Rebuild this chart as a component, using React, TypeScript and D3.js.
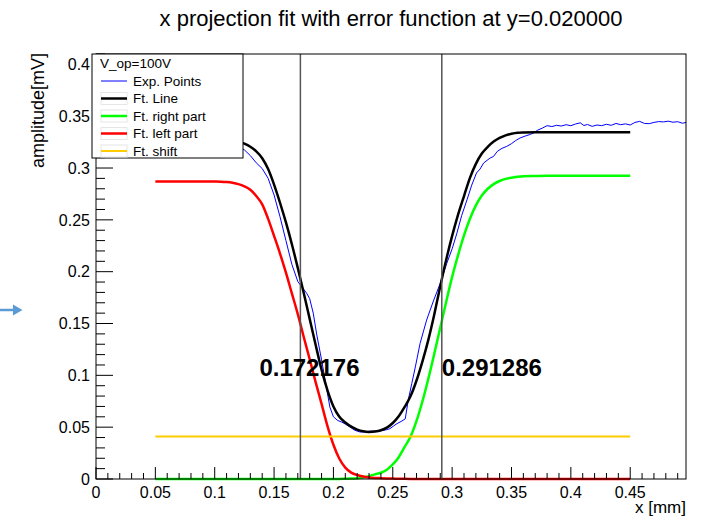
import React from "react";
import * as d3 from "d3";

const TITLE = "x projection fit with error function at y=0.020000";
const X_TITLE = "x [mm]";
const Y_TITLE = "amplitude[mV]";

const X_TICKS = [0, 0.05, 0.1, 0.15, 0.2, 0.25, 0.3, 0.35, 0.4, 0.45];
const X_TICK_LABELS = ["0", "0.05", "0.1", "0.15", "0.2", "0.25", "0.3", "0.35", "0.4", "0.45"];
const Y_TICKS = [0, 0.05, 0.1, 0.15, 0.2, 0.25, 0.3, 0.35, 0.4];
const Y_TICK_LABELS = ["0", "0.05", "0.1", "0.15", "0.2", "0.25", "0.3", "0.35", "0.4"];

const LEGEND_HEADER = "V_op=100V";
const LEGEND_LABELS = ["Exp. Points", "Ft. Line", "Ft. right part", "Ft. left part", "Ft. shift"];

const EDGES = [0.172176, 0.291286];
const EDGE_LABELS = ["0.172176", "0.291286"];

// shared x grid of the fitted curves
const FIT_X = [
  0.05, 0.06, 0.07, 0.08, 0.09, 0.1,
  0.105, 0.11, 0.115, 0.12, 0.125, 0.13, 0.135, 0.14, 0.145, 0.15,
  0.155, 0.16, 0.165, 0.17, 0.175, 0.18, 0.185, 0.19, 0.195, 0.2,
  0.205, 0.21, 0.215, 0.22, 0.225, 0.23, 0.235, 0.24, 0.245, 0.25,
  0.255, 0.26, 0.265, 0.27, 0.275, 0.28, 0.285, 0.29, 0.295, 0.3,
  0.305, 0.31, 0.315, 0.32, 0.325, 0.33, 0.335, 0.34, 0.345, 0.35,
  0.355, 0.36,
  0.37, 0.38, 0.39, 0.4, 0.41, 0.42, 0.43, 0.44, 0.45,
];

const FIT_LINE = [
  0.328, 0.328, 0.328, 0.328, 0.328, 0.3278,
  0.3276, 0.3272, 0.3265, 0.3255, 0.3235, 0.3205, 0.316, 0.3095, 0.299, 0.284,
  0.2665, 0.2475, 0.2265, 0.2035, 0.1795, 0.1545, 0.1295, 0.1055, 0.0855, 0.07,
  0.06, 0.0545, 0.0505, 0.0477, 0.046, 0.0454, 0.0458, 0.047, 0.0495, 0.054,
  0.0605, 0.0695, 0.08, 0.095, 0.1135, 0.1345, 0.159, 0.186, 0.2115, 0.2345,
  0.255, 0.273, 0.2905, 0.304, 0.314, 0.3205, 0.3255, 0.329, 0.3315, 0.333,
  0.334, 0.3343,
  0.3345, 0.3345, 0.3345, 0.3345, 0.3345, 0.3345, 0.3345, 0.3345, 0.3345,
];

const RIGHT_PART = [
  0, 0, 0, 0, 0, 0,
  0, 0, 0, 0, 0, 0, 0, 0, 0, 0,
  0, 0, 0, 0, 0, 0, 0, 0, 0, 0,
  0.0001, 0.0002, 0.0004, 0.0008, 0.0015, 0.0028, 0.0045, 0.006, 0.009, 0.014,
  0.021, 0.031, 0.041, 0.056, 0.075, 0.097, 0.121, 0.146, 0.171, 0.195,
  0.216, 0.235, 0.251, 0.264, 0.2735, 0.28, 0.2845, 0.2875, 0.2895, 0.2907,
  0.2915, 0.292,
  0.2923, 0.2925, 0.2925, 0.2925, 0.2925, 0.2925, 0.2925, 0.2925, 0.2925,
];

const LEFT_PART = [
  0.287, 0.287, 0.287, 0.287, 0.287, 0.2869,
  0.2868, 0.2865, 0.2858, 0.2845, 0.2823, 0.279, 0.273, 0.265, 0.251, 0.2345,
  0.2175, 0.199, 0.179, 0.159, 0.137, 0.1155, 0.0935, 0.0725, 0.051, 0.033,
  0.0195, 0.011, 0.0062, 0.0038, 0.0024, 0.0015, 0.001, 0.0008, 0.0006, 0.0004,
  0.0003, 0.0002, 0.0001, 0, 0, 0, 0, 0, 0, 0,
  0, 0, 0, 0, 0, 0, 0, 0, 0, 0,
  0, 0,
  0, 0, 0, 0, 0, 0, 0, 0, 0,
];

const SHIFT_X = [0.05, 0.45];
const SHIFT_Y = [0.041, 0.041];

const EXP_X = [
  0, 0.01, 0.02, 0.03, 0.04, 0.05, 0.06, 0.07, 0.08, 0.09,
  0.1, 0.11, 0.115, 0.12, 0.125, 0.13, 0.135, 0.14, 0.145, 0.15,
  0.155, 0.16, 0.165, 0.17, 0.1733, 0.1775, 0.18, 0.183, 0.186, 0.19,
  0.194, 0.197, 0.2, 0.2035, 0.207, 0.21, 0.214, 0.218, 0.2225, 0.227,
  0.231, 0.2365, 0.24, 0.2445, 0.2475, 0.2505, 0.2535, 0.257, 0.2605, 0.263,
  0.266, 0.269, 0.273, 0.2785, 0.2815, 0.2845, 0.29, 0.2955, 0.3, 0.304,
  0.308, 0.3125, 0.3165, 0.3205, 0.3235, 0.3265, 0.332, 0.3347, 0.338, 0.342,
  0.346, 0.35, 0.3535, 0.3572, 0.362, 0.366, 0.3685, 0.372, 0.376, 0.38,
  0.384, 0.388, 0.392, 0.396, 0.4, 0.404, 0.408, 0.411, 0.414, 0.418,
  0.422, 0.426, 0.43, 0.434, 0.438, 0.442, 0.446, 0.45, 0.454, 0.458,
  0.462, 0.466, 0.47, 0.474, 0.478, 0.482, 0.486, 0.49, 0.494, 0.497,
];
const EXP_Y = [
  0.327, 0.328, 0.326, 0.327, 0.328, 0.327, 0.326, 0.327, 0.326, 0.326,
  0.325, 0.324, 0.3225, 0.32, 0.3175, 0.312, 0.305, 0.2995, 0.29, 0.274,
  0.253, 0.23, 0.207, 0.1905, 0.1855, 0.1791, 0.174, 0.16, 0.139, 0.115,
  0.089, 0.0694, 0.06, 0.0565, 0.0549, 0.053, 0.0501, 0.047, 0.0453, 0.0455,
  0.0462, 0.0462, 0.0465, 0.0475, 0.0485, 0.051, 0.0534, 0.0555, 0.058, 0.0759,
  0.0921, 0.1081, 0.1308, 0.1533, 0.163, 0.1726, 0.1888, 0.2081, 0.222, 0.2371,
  0.254, 0.2693, 0.2835, 0.2952, 0.299, 0.3048, 0.3097, 0.311, 0.316, 0.319,
  0.3209, 0.3235, 0.3265, 0.329, 0.331, 0.3325, 0.3338, 0.3365, 0.3385, 0.3409,
  0.34, 0.3412, 0.3405, 0.3418, 0.3408, 0.3425, 0.3436, 0.341, 0.342, 0.3402,
  0.3415, 0.3409, 0.3422, 0.3412, 0.343, 0.3418, 0.3426, 0.3415, 0.344, 0.345,
  0.343, 0.3428, 0.344, 0.3448, 0.3445, 0.3452, 0.3442, 0.3447, 0.3432, 0.344,
];

const FONT = "'Liberation Sans', Arial, Helvetica, sans-serif";

export default function App() {
  const W = 702;
  const H = 517;
  const x = d3.scaleLinear().domain([0, 0.497]).range([96, 686]);
  const y = d3.scaleLinear().domain([0, 0.41]).range([479, 54]);
  const [x0, x1] = x.range();
  const [yb, yt] = y.range();

  const pts = (xs: number[], ys: number[]) => xs.map((v, i) => [v, ys[i]] as [number, number]);
  const smooth = d3
    .line<[number, number]>()
    .x((d) => x(d[0]))
    .y((d) => y(d[1]))
    .curve(d3.curveMonotoneX);
  const straight = d3
    .line<[number, number]>()
    .x((d) => x(d[0]))
    .y((d) => y(d[1]));

  const xMinor = d3.range(0, 0.4975, 0.01).filter((v) => !X_TICKS.some((t) => Math.abs(t - v) < 1e-6));
  const yMinor = d3.range(0, 0.4101, 0.01).filter((v) => !Y_TICKS.some((t) => Math.abs(t - v) < 1e-6));

  const legendColors = ["#0000ff", "#000000", "#00ff00", "#ff0000", "#ffcc00"];
  const legendWidths = [1, 2.5, 2.5, 2.5, 2];

  return (
    <svg
      width={W}
      height={H}
      style={{ position: "absolute", left: 0, top: 0, background: "#fff" }}
      fontFamily={FONT}
    >
      <rect x={0} y={0} width={W} height={H} fill="#fff" />

      {/* title */}
      <text x={391} y={26} fontSize={22} textAnchor="middle" fill="#000">
        {TITLE}
      </text>

      {/* side arrow */}
      <line x1={0} x2={14} y1={310} y2={310} stroke="#5b9bd5" strokeWidth={2.5} />
      <path d="M13,304.5 L22.5,310 L13,315.5 Z" fill="#5b9bd5" />

      {/* curves */}
      <g fill="none">
        <path d={straight(pts(EXP_X, EXP_Y)) || ""} stroke="#0000ff" strokeWidth={1} />
        <path d={smooth(pts(FIT_X, FIT_LINE)) || ""} stroke="#000" strokeWidth={2.5} />
        <path d={smooth(pts(FIT_X, RIGHT_PART)) || ""} stroke="#00ff00" strokeWidth={2.5} />
        <path d={smooth(pts(FIT_X, LEFT_PART)) || ""} stroke="#ff0000" strokeWidth={2.5} />
        <path d={straight(pts(SHIFT_X, SHIFT_Y)) || ""} stroke="#ffcc00" strokeWidth={2} />
      </g>

      {/* edge lines and labels */}
      {EDGES.map((e, i) => (
        <line key={"e" + i} x1={x(e)} x2={x(e)} y1={yt} y2={yb} stroke="#555" strokeWidth={1.5} />
      ))}
      <text x={x(EDGES[0]) - 41} y={376} fontSize={24} fontWeight="bold" fill="#000">
        {EDGE_LABELS[0]}
      </text>
      <text x={x(EDGES[1])} y={376} fontSize={24} fontWeight="bold" fill="#000">
        {EDGE_LABELS[1]}
      </text>

      {/* frame */}
      <rect x={x0} y={yt} width={x1 - x0} height={yb - yt} fill="none" stroke="#000" strokeWidth={1} />

      {/* x ticks */}
      {X_TICKS.map((t, i) => (
        <g key={"xt" + i}>
          <line x1={x(t)} x2={x(t)} y1={yb} y2={yb - 12} stroke="#000" />
          <text x={x(t)} y={498} fontSize={16} textAnchor="middle" fill="#000">
            {X_TICK_LABELS[i]}
          </text>
        </g>
      ))}
      {xMinor.map((t, i) => (
        <line key={"xm" + i} x1={x(t)} x2={x(t)} y1={yb} y2={yb - 6} stroke="#000" />
      ))}

      {/* y ticks */}
      {Y_TICKS.map((t, i) => (
        <g key={"yt" + i}>
          <line x1={x0} x2={x0 + 17} y1={y(t)} y2={y(t)} stroke="#000" />
          <text x={90} y={y(t) + 5.7} fontSize={16} textAnchor="end" fill="#000">
            {Y_TICK_LABELS[i]}
          </text>
        </g>
      ))}
      {yMinor.map((t, i) => (
        <line key={"ym" + i} x1={x0} x2={x0 + 9} y1={y(t)} y2={y(t)} stroke="#000" />
      ))}

      {/* axis titles */}
      <text x={686} y={513} fontSize={17} textAnchor="end" fill="#000">
        {X_TITLE}
      </text>
      <text
        transform={`translate(44,${yt - 1}) rotate(-90)`}
        fontSize={18}
        textAnchor="end"
        fill="#000"
      >
        {Y_TITLE}
      </text>

      {/* legend */}
      <g>
        <rect x={92} y={54} width={151} height={104} fill="#fff" stroke="#000" strokeWidth={1} />
        <text x={100} y={68} fontSize={13.5} fill="#000">
          {LEGEND_HEADER}
        </text>
        {LEGEND_LABELS.map((lab, i) => {
          const base = 85.5 + i * 17.5;
          const ly = base - 4.5;
          return (
            <g key={"lg" + i}>
              {i > 0 && (
                <rect x={101} y={ly - 6} width={26} height={12} fill="none" stroke="#e6e6e6" strokeWidth={1} />
              )}
              <line x1={101} x2={127} y1={ly} y2={ly} stroke={legendColors[i]} strokeWidth={legendWidths[i]} />
              <text x={133} y={base} fontSize={13.5} fill="#000">
                {lab}
              </text>
            </g>
          );
        })}
      </g>
    </svg>
  );
}
